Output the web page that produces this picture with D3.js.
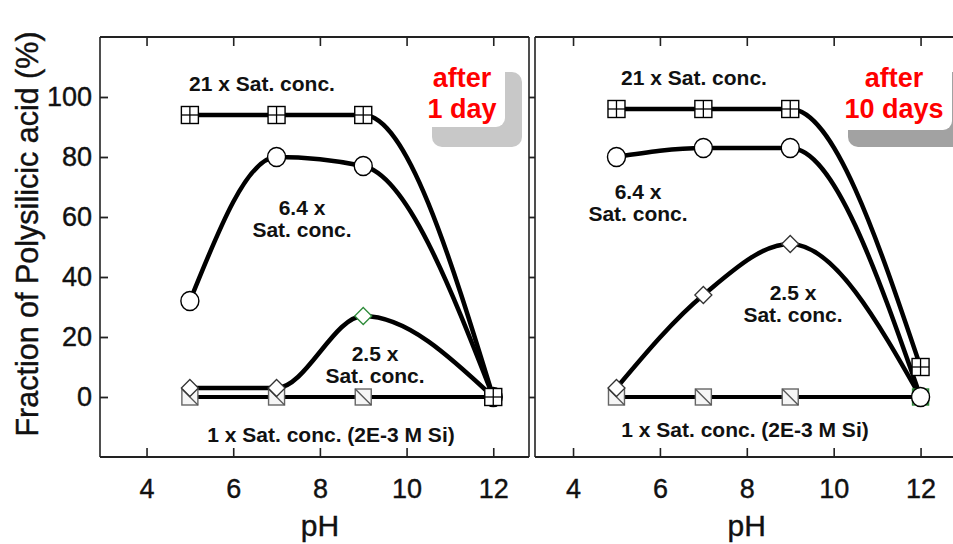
<!DOCTYPE html>
<html>
<head>
<meta charset="utf-8">
<script src="https://cdn.jsdelivr.net/npm/d3@7"></script>
<style>
  html, body { margin: 0; padding: 0; background: #fff; }
  svg { display: block; font-family: "Liberation Sans", Arial, Helvetica, sans-serif; }
</style>
</head>
<body>
<svg id="chart" width="953" height="544"></svg>
<script>
// pH values at which the samples were measured
const pHValues = [5, 7, 9, 12];
const xTicks = [4, 6, 8, 10, 12];
const yTicks = [0, 20, 40, 60, 80, 100];

// Fraction of polysilicic acid (%) after 1 day
const day1_21x  = [94, 94, 94, 0];
const day1_6x   = [32, 80, 77, 0];
const day1_2x   = [3, 3, 27, 0];
const day1_1x   = [0, 0, 0, 0];

// Fraction of polysilicic acid (%) after 10 days
const day10_21x = [96, 96, 96, 10];
const day10_6x  = [80, 83, 83, 0];
const day10_2x  = [3, 34, 51, 0];
const day10_1x  = [0, 0, 0, 0];

const seriesKeys = ["1x", "2.5x", "6.4x", "21x"];

const svg = d3.select("#chart");

const y = d3.scaleLinear().domain([-20, 120]).range([457, 37]);

const panels = [
  {
    name: "day1",
    frame: [100, 529],
    xRange: [103.2, 536.6],
    data: { "21x": day1_21x, "6.4x": day1_6x, "2.5x": day1_2x, "1x": day1_1x },
    green: [["2.5x", 2]],
    time: ["after", "1 day"],
    box: { white: [412, 56, 93, 71], shadow: [432, 72, 90, 75], shade: "#c8c8c8" },
    timeX: 462,
    labels: [
      { t: ["21 x Sat. conc."], x: 262, y: 91 },
      { t: ["6.4 x", "Sat. conc."], x: 302, y: 215 },
      { t: ["2.5 x", "Sat. conc."], x: 375, y: 361 },
      { t: ["1 x Sat. conc. (2E-3 M Si)"], x: 331, y: 442 }
    ]
  },
  {
    name: "day10",
    frame: [535, 1000],
    xRange: [529.6, 964],
    data: { "21x": day10_21x, "6.4x": day10_6x, "2.5x": day10_2x, "1x": day10_1x },
    green: [["1x", 3]],
    time: ["after", "10 days"],
    box: { white: [836, 56, 116, 74], shadow: [848, 72, 130, 75], shade: "#a2a2a2" },
    timeX: 894,
    labels: [
      { t: ["21 x Sat. conc."], x: 694, y: 85 },
      { t: ["6.4 x", "Sat. conc."], x: 638, y: 199 },
      { t: ["2.5 x", "Sat. conc."], x: 793, y: 300 },
      { t: ["1 x Sat. conc. (2E-3 M Si)"], x: 745, y: 437 }
    ]
  }
];

// marker drawers
function drawMarker(g, key, cx, cy, stroke) {
  const m = g.append("g").attr("transform", `translate(${cx},${cy})`);
  if (key === "21x") {
    const s = 8.5;
    m.append("rect").attr("x", -s).attr("y", -s).attr("width", 2 * s).attr("height", 2 * s)
      .attr("fill", "#fff").attr("stroke", stroke || "#000").attr("stroke-width", 1.4);
    m.append("line").attr("x1", -s).attr("x2", s).attr("y1", 0).attr("y2", 0)
      .attr("stroke", stroke || "#000").attr("stroke-width", 1.3);
    m.append("line").attr("x1", 0).attr("x2", 0).attr("y1", -s).attr("y2", s)
      .attr("stroke", stroke || "#000").attr("stroke-width", 1.3);
  } else if (key === "6.4x") {
    m.append("ellipse").attr("rx", 9).attr("ry", 9.5)
      .attr("fill", "#fff").attr("stroke", stroke || "#000").attr("stroke-width", 1.4);
  } else if (key === "2.5x") {
    const d = 8.5;
    m.append("path").attr("d", `M0,${-d}L${d},0L0,${d}L${-d},0Z`)
      .attr("fill", "#fff").attr("stroke", stroke || "#333").attr("stroke-width", 1.3);
  } else {
    const s = 8;
    m.append("rect").attr("x", -s).attr("y", -s).attr("width", 2 * s).attr("height", 2 * s)
      .attr("fill", "#f6f6f6").attr("stroke", stroke || "#666").attr("stroke-width", 1.4);
    m.append("line").attr("x1", -s).attr("y1", -s).attr("x2", s).attr("y2", s)
      .attr("stroke", stroke || "#555").attr("stroke-width", 1.3);
  }
}

panels.forEach(p => {
  const x = d3.scaleLinear().domain([3, 13]).range(p.xRange);
  const g = svg.append("g").attr("class", p.name);

  // time stamp box (drawn first so the frame sits above it)
  const b = p.box;
  g.append("rect").attr("x", b.shadow[0]).attr("y", b.shadow[1])
    .attr("width", b.shadow[2]).attr("height", b.shadow[3])
    .attr("rx", 10).attr("fill", b.shade);
  g.append("rect").attr("x", b.white[0]).attr("y", b.white[1])
    .attr("width", b.white[2]).attr("height", b.white[3])
    .attr("rx", 9).attr("fill", "#fff");

  // frame
  const [fx0, fx1] = p.frame;
  g.append("line").attr("x1", fx0).attr("x2", fx1).attr("y1", y(120)).attr("y2", y(120))
    .attr("stroke", "#222").attr("stroke-width", 1.8);
  g.append("line").attr("x1", fx0).attr("x2", fx1).attr("y1", y(-20)).attr("y2", y(-20))
    .attr("stroke", "#222").attr("stroke-width", 1.8);
  g.append("line").attr("x1", fx0).attr("x2", fx0).attr("y1", y(120)).attr("y2", y(-20))
    .attr("stroke", "#222").attr("stroke-width", 1.6);
  if (fx1 < 953) {
    g.append("line").attr("x1", fx1).attr("x2", fx1).attr("y1", y(120)).attr("y2", y(-20))
      .attr("stroke", "#222").attr("stroke-width", 1.6);
  }

  // x ticks (bottom and top, pointing inward) via d3 axes
  const bottomAxis = d3.axisBottom(x).tickValues(xTicks).tickSizeInner(-9).tickSizeOuter(0)
    .tickPadding(22).tickFormat(d3.format("d"));
  const ax = g.append("g").attr("transform", `translate(0,${y(-20)})`).call(bottomAxis);
  ax.select(".domain").remove();
  ax.selectAll(".tick line").attr("stroke", "#222").attr("stroke-width", 1.6);
  ax.selectAll(".tick text").attr("font-size", 27).attr("fill", "#111")
    .attr("stroke", "#111").attr("stroke-width", 0.4)
    .attr("font-family", '"Liberation Sans", Arial, sans-serif');

  const topAxis = d3.axisTop(x).tickValues(xTicks).tickSizeInner(-9).tickSizeOuter(0).tickFormat("");
  const at = g.append("g").attr("transform", `translate(0,${y(120)})`).call(topAxis);
  at.select(".domain").remove();
  at.selectAll(".tick line").attr("stroke", "#222").attr("stroke-width", 1.6);

  // y ticks on the left edge of each panel
  const leftAxis = d3.axisLeft(y).tickValues(yTicks).tickSizeOuter(0);
  if (p.name === "day1") {
    leftAxis.tickSizeInner(-8).tickPadding(8);
  } else {
    leftAxis.tickSizeInner(6).tickFormat("");
  }
  const ay = g.append("g").attr("transform", `translate(${fx0},0)`).call(leftAxis);
  ay.select(".domain").remove();
  ay.selectAll(".tick line").attr("stroke", "#222").attr("stroke-width", 1.8);
  ay.selectAll(".tick text").attr("font-size", 27).attr("fill", "#111")
    .attr("stroke", "#111").attr("stroke-width", 0.4)
    .attr("font-family", '"Liberation Sans", Arial, sans-serif');

  // "pH" axis title
  g.append("text").attr("x", x(8)).attr("y", 536).attr("text-anchor", "middle")
    .attr("font-size", 30).attr("fill", "#111").attr("stroke", "#111").attr("stroke-width", 0.4)
    .text("pH");

  // series curves: monotone interpolation keeps flat stretches flat
  const line = d3.line()
    .x((d, i) => x(pHValues[i]))
    .y(d => y(d))
    .curve(d3.curveMonotoneX);

  seriesKeys.forEach(k => {
    g.append("path").attr("d", line(p.data[k]))
      .attr("fill", "none").attr("stroke", "#000")
      .attr("stroke-width", k === "1x" ? 4 : 4.5)
      .attr("stroke-linejoin", "round").attr("stroke-linecap", "round");
  });

  // markers
  seriesKeys.forEach(k => {
    p.data[k].forEach((v, i) => {
      const hi = p.green.some(([s, j]) => s === k && j === i);
      drawMarker(g, k, x(pHValues[i]), y(v), hi ? "#2e8b3a" : null);
    });
  });

  // series labels
  p.labels.forEach(l => {
    const t = g.append("text").attr("text-anchor", "middle")
      .attr("font-size", 21).attr("font-weight", "bold").attr("fill", "#111");
    l.t.forEach((s, i) => {
      t.append("tspan").attr("x", l.x).attr("y", l.y + i * 22).text(s);
    });
  });

  // time stamp
  const tt = g.append("text").attr("text-anchor", "middle")
    .attr("font-size", 27).attr("font-weight", "bold").attr("fill", "#ff0000");
  p.time.forEach((s, i) => {
    tt.append("tspan").attr("x", p.timeX).attr("y", 87 + i * 31).text(s);
  });
});

// y axis title
svg.append("text")
  .attr("transform", "translate(38,234) rotate(-90)")
  .attr("text-anchor", "middle")
  .attr("font-size", 30.5).attr("fill", "#111").attr("stroke", "#111").attr("stroke-width", 0.4)
  .text("Fraction of Polysilicic acid (%)");
</script>
</body>
</html>
